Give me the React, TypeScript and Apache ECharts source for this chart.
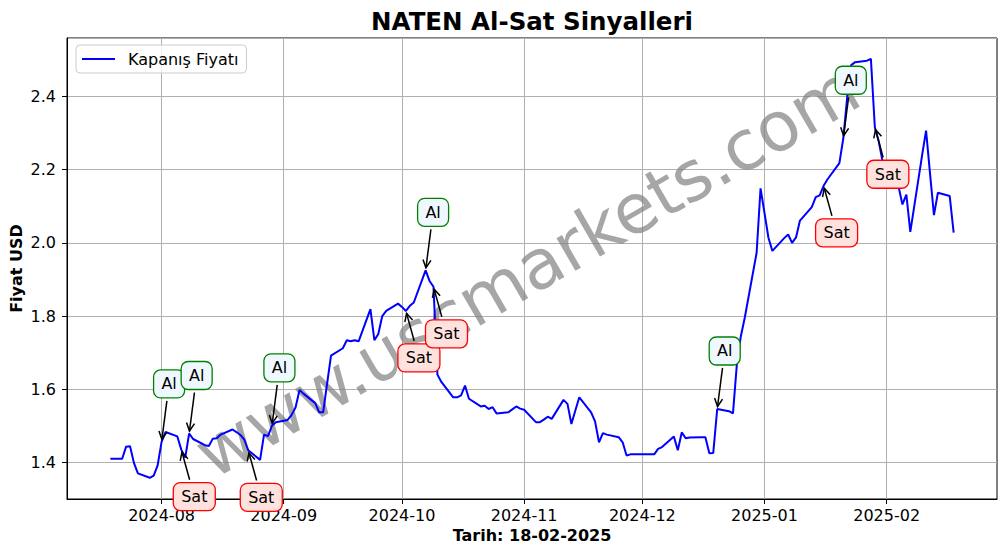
import React, { useEffect, useRef } from 'react';
import * as echarts from 'echarts';

// ---- data ----
const tradeDates = [
  '2024-07-19','2024-07-22','2024-07-23','2024-07-24','2024-07-25','2024-07-26','2024-07-29','2024-07-30','2024-07-31',
  '2024-08-01','2024-08-02','2024-08-05','2024-08-06','2024-08-07','2024-08-08','2024-08-09','2024-08-12','2024-08-13',
  '2024-08-14','2024-08-15','2024-08-16','2024-08-19','2024-08-20','2024-08-21','2024-08-22','2024-08-23','2024-08-26',
  '2024-08-27','2024-08-28','2024-08-29','2024-08-30','2024-09-02','2024-09-03','2024-09-04','2024-09-05','2024-09-06',
  '2024-09-09','2024-09-10','2024-09-11','2024-09-12','2024-09-13','2024-09-16','2024-09-17','2024-09-18','2024-09-19',
  '2024-09-20','2024-09-23','2024-09-24','2024-09-25','2024-09-26','2024-09-27','2024-09-30','2024-10-01','2024-10-02',
  '2024-10-03','2024-10-04','2024-10-07','2024-10-08','2024-10-09','2024-10-10','2024-10-11','2024-10-14','2024-10-15',
  '2024-10-16','2024-10-17','2024-10-18','2024-10-21','2024-10-22','2024-10-23','2024-10-24','2024-10-25','2024-10-28',
  '2024-10-29','2024-10-30','2024-10-31','2024-11-01','2024-11-04','2024-11-05','2024-11-06','2024-11-07','2024-11-08',
  '2024-11-11','2024-11-12','2024-11-13','2024-11-14','2024-11-15','2024-11-18','2024-11-19','2024-11-20','2024-11-21',
  '2024-11-22','2024-11-25','2024-11-26','2024-11-27','2024-11-28','2024-11-29','2024-12-02','2024-12-03','2024-12-04',
  '2024-12-05','2024-12-06','2024-12-09','2024-12-10','2024-12-11','2024-12-12','2024-12-13','2024-12-16','2024-12-17',
  '2024-12-18','2024-12-19','2024-12-20','2024-12-23','2024-12-24','2024-12-25','2024-12-26','2024-12-27','2024-12-30',
  '2024-12-31','2025-01-02','2025-01-03','2025-01-06','2025-01-07','2025-01-08','2025-01-09','2025-01-10','2025-01-13',
  '2025-01-14','2025-01-15','2025-01-16','2025-01-17','2025-01-20','2025-01-21','2025-01-22','2025-01-23','2025-01-24',
  '2025-01-27','2025-01-28','2025-01-29','2025-01-30','2025-01-31','2025-02-03','2025-02-04','2025-02-05','2025-02-06',
  '2025-02-07','2025-02-10','2025-02-11','2025-02-12','2025-02-13','2025-02-14','2025-02-17','2025-02-18',
];

const closes = [
  1.410, 1.410, 1.443, 1.444, 1.398, 1.370, 1.358, 1.364, 1.392,
  1.456, 1.483, 1.471, 1.435, 1.413, 1.479, 1.464, 1.447, 1.445,
  1.465, 1.466, 1.476, 1.490, 1.483, 1.475, 1.462, 1.433, 1.407,
  1.476, 1.472, 1.500, 1.510, 1.516, 1.530, 1.550, 1.598, 1.588,
  1.562, 1.537, 1.537, 1.615, 1.692, 1.712, 1.734, 1.731, 1.734,
  1.731, 1.819, 1.734, 1.751, 1.800, 1.814, 1.834, 1.825, 1.814,
  1.828, 1.837, 1.925, 1.896, 1.880, 1.640, 1.620, 1.578, 1.578,
  1.583, 1.610, 1.574, 1.553, 1.555, 1.546, 1.551, 1.534, 1.537,
  1.545, 1.553, 1.547, 1.544, 1.510, 1.510, 1.517, 1.525, 1.519,
  1.571, 1.560, 1.505, 1.542, 1.578, 1.537, 1.512, 1.455, 1.480,
  1.476, 1.469, 1.455, 1.419, 1.422, 1.422, 1.422, 1.422, 1.422,
  1.437, 1.442, 1.471, 1.433, 1.482, 1.466, 1.468, 1.469, 1.469,
  1.425, 1.426, 1.546, 1.540, 1.534, 1.670, 1.745, 1.796, 1.973,
  2.149, 2.014, 1.978, 2.013, 2.023, 2.000, 2.015, 2.061, 2.098,
  2.125, 2.130, 2.156, 2.174, 2.218, 2.286, 2.400, 2.486, 2.494,
  2.498, 2.503, 2.316, 2.277, 2.220, 2.170, 2.155, 2.105, 2.132,
  2.030, 2.240, 2.307, 2.190, 2.076, 2.137, 2.128, 2.028,
];

const buyDates = ['2024-08-01', '2024-08-08', '2024-08-29', '2024-10-07', '2024-12-20', '2025-01-21'];
const sellDates = ['2024-08-06', '2024-08-23', '2024-10-02', '2024-10-09', '2025-01-16', '2025-01-29'];

const axisStart = '2024-07-08';
const axisEnd = '2025-03-01';
const yMin = 1.3;
const yMax = 2.56;

const titleText = 'NATEN Al-Sat Sinyalleri';
const xName = 'Tarih: 18-02-2025';
const yName = 'Fiyat USD';
const seriesName = 'Kapanış Fiyatı';
const watermark = 'www.uscmarkets.com';
const FONT = '"DejaVu Sans", Verdana, sans-serif';

function buildDays(start: string, end: string): string[] {
  const out: string[] = [];
  const d = new Date(start + 'T00:00:00Z');
  const e = new Date(end + 'T00:00:00Z');
  while (d.getTime() <= e.getTime()) {
    out.push(d.toISOString().slice(0, 10));
    d.setUTCDate(d.getUTCDate() + 1);
  }
  return out;
}

function makeSignalRenderer(label: string, offX: number, offY: number, boxW: number, boxH: number, stroke: string, fill: string) {
  return (_params: any, api: any) => {
    const p = api.coord([api.value(0), api.value(1)]);
    const cx = p[0] + offX;
    const cy = p[1] + offY;
    const dx = p[0] - cx;
    const dy = p[1] - cy;
    const len = Math.hypot(dx, dy);
    const ux = dx / len;
    const uy = dy / len;
    const t0 = Math.min(boxW / 2 / Math.max(Math.abs(ux), 1e-6), boxH / 2 / Math.max(Math.abs(uy), 1e-6)) + 3;
    const sx = cx + ux * t0;
    const sy = cy + uy * t0;
    const ex = p[0] - ux * 2.5;
    const ey = p[1] - uy * 2.5;
    const hl = 8;
    const hw = 4;
    const bx = ex - ux * hl;
    const by = ey - uy * hl;
    const px = -uy;
    const py = ux;
    return {
      type: 'group',
      children: [
        { type: 'line', shape: { x1: sx, y1: sy, x2: ex, y2: ey }, style: { stroke: '#000', lineWidth: 1.5 } },
        {
          type: 'polyline',
          shape: { points: [[bx + px * hw, by + py * hw], [ex, ey], [bx - px * hw, by - py * hw]] },
          style: { stroke: '#000', fill: 'none', lineWidth: 1.5 },
        },
        {
          type: 'rect',
          shape: { x: cx - boxW / 2, y: cy - boxH / 2, width: boxW, height: boxH, r: 7 },
          style: { fill, stroke, lineWidth: 1.3 },
        },
        {
          type: 'text',
          x: cx,
          y: cy,
          style: { text: label, fill: '#000', fontSize: 16, fontFamily: FONT, align: 'center', verticalAlign: 'middle' },
        },
      ],
    };
  };
}

export default function App() {
  const ref = useRef<HTMLDivElement>(null);

  useEffect(() => {
    if (!ref.current) return;
    const chart = echarts.init(ref.current, null, { renderer: 'svg' });
    const days = buildDays(axisStart, axisEnd);
    const closeByDate: Record<string, number> = {};
    tradeDates.forEach((d, i) => (closeByDate[d] = closes[i]));
    const isMonthStart = (_i: number, v: string) => v.slice(8, 10) === '01' && v !== axisEnd;

    const option: any = {
      animation: false,
      backgroundColor: '#ffffff',
      textStyle: { fontFamily: FONT },
      grid: {
        left: 67,
        right: 9,
        top: 38,
        bottom: 55,
        containLabel: false,
        outerBoundsMode: 'none',
        show: true,
        borderColor: '#000',
        borderWidth: 1,
        backgroundColor: 'transparent',
      },
      legend: {
        data: [{ name: seriesName, icon: 'rect' }],
        left: 76,
        top: 45,
        orient: 'horizontal',
        itemWidth: 33,
        itemHeight: 2,
        padding: [6, 8, 6, 6],
        backgroundColor: 'rgba(255,255,255,0.8)',
        borderColor: '#cccccc',
        borderWidth: 1,
        borderRadius: 4,
        textStyle: { fontSize: 16, color: '#000', fontFamily: FONT, padding: [0, 0, 0, 8], lineHeight: 16 },
      },
      xAxis: {
        type: 'category',
        data: days,
        boundaryGap: false,
        name: xName,
        nameLocation: 'middle',
        nameGap: 28,
        nameTextStyle: { fontSize: 16, fontWeight: 'bold', color: '#000', fontFamily: FONT },
        axisLine: { show: true, lineStyle: { color: '#000', width: 1 } },
        axisTick: { show: true, interval: isMonthStart, length: 5, lineStyle: { color: '#000' } },
        axisLabel: {
          interval: isMonthStart,
          formatter: (v: string) => v.slice(0, 7),
          fontSize: 16,
          color: '#000',
          fontFamily: FONT,
          margin: 8,
        },
        splitLine: { show: true, interval: isMonthStart, lineStyle: { color: '#b0b0b0', width: 1 } },
      },
      yAxis: {
        type: 'value',
        min: yMin,
        max: yMax,
        splitNumber: 6,
        minInterval: 0.2,
        maxInterval: 0.2,
        name: yName,
        nameLocation: 'middle',
        nameGap: 43,
        nameMoveOverlap: false,
        nameTextStyle: { fontSize: 16, fontWeight: 'bold', color: '#000', fontFamily: FONT },
        axisLine: { show: true, lineStyle: { color: '#000', width: 1 } },
        axisTick: { show: true, length: 5, lineStyle: { color: '#000' } },
        axisLabel: {
          showMinLabel: false,
          showMaxLabel: false,
          formatter: (v: number) => v.toFixed(1),
          fontSize: 16,
          color: '#000',
          fontFamily: FONT,
          margin: 11,
        },
        splitLine: { show: true, lineStyle: { color: '#b0b0b0', width: 1 } },
      },
      graphic: [
        {
          type: 'text',
          x: 532,
          y: 21,
          z: 5,
          style: {
            text: titleText,
            fill: '#000',
            fontSize: 24.5,
            fontWeight: 'bold',
            fontFamily: FONT,
            align: 'center',
            verticalAlign: 'middle',
          },
        },
        {
          type: 'text',
          x: 527,
          y: 271,
          rotation: Math.PI / 6,
          z: 1,
          silent: true,
          style: {
            text: watermark,
            fill: 'rgba(128,128,128,0.7)',
            fontSize: 69,
            fontFamily: FONT,
            align: 'center',
            verticalAlign: 'middle',
          },
        },
      ],
      series: [
        {
          name: seriesName,
          type: 'line',
          data: tradeDates.map((d, i) => [d, closes[i]]),
          symbol: 'none',
          showSymbol: false,
          lineStyle: { color: '#0000ff', width: 2 },
          itemStyle: { color: '#0000ff' },
          z: 3,
        },
        {
          name: 'Al',
          type: 'custom',
          data: buyDates.map((d) => [d, closeByDate[d]]),
          encode: { x: 0, y: 1 },
          clip: false,
          z: 10,
          renderItem: makeSignalRenderer('Al', 7.5, -58, 31, 28, '#008000', '#f0f8ff'),
        },
        {
          name: 'Sat',
          type: 'custom',
          data: sellDates.map((d) => [d, closeByDate[d]]),
          encode: { x: 0, y: 1 },
          clip: false,
          z: 10,
          renderItem: makeSignalRenderer('Sat', 13, 47, 42, 28, '#ff0000', '#ffe2de'),
        },
      ],
    };

    chart.setOption(option);
    return () => chart.dispose();
  }, []);

  return (
    <div
      ref={ref}
      style={{ position: 'fixed', left: 0, top: 0, width: 1006, height: 554, background: '#fff' }}
    />
  );
}
